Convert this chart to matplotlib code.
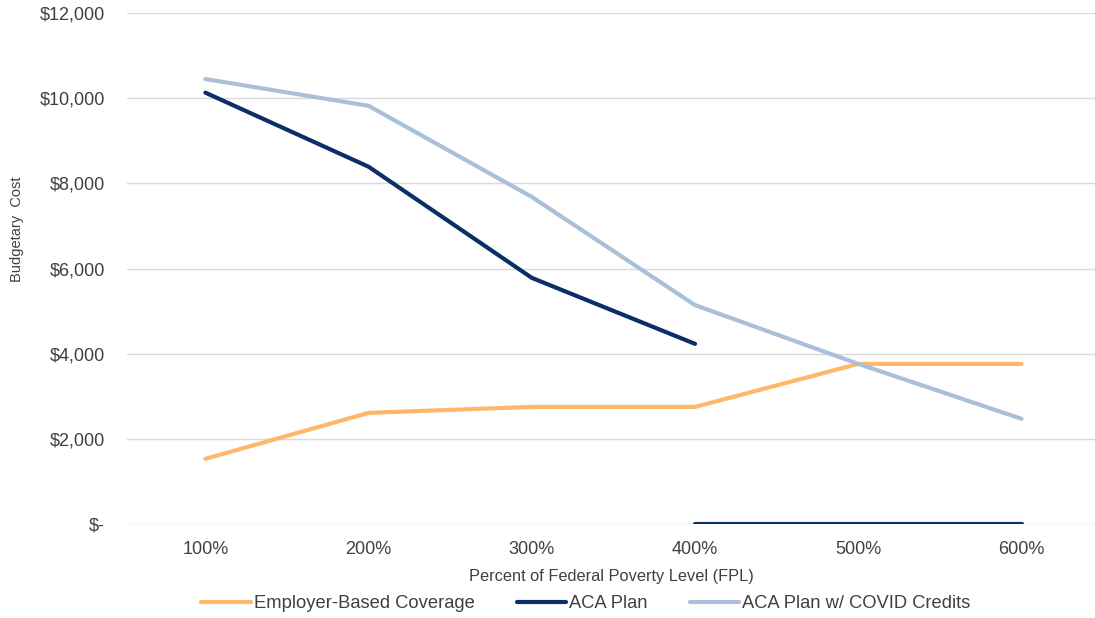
import matplotlib
matplotlib.use("Agg")
import matplotlib.pyplot as plt
import numpy as np

categories = ["100%", "200%", "300%", "400%", "500%", "600%"]
employer = [1530, 2610, 2750, 2750, 3760, 3760]
aca_plan = [10130, 8390, 5780, 4230, np.nan, np.nan]
aca_plan_cliff = [np.nan, np.nan, np.nan, 0, 0, 0]
aca_covid = [10450, 9820, 7680, 5140, 3760, 2470]
yticks = [0, 2000, 4000, 6000, 8000, 10000, 12000]
ytick_labels = ["$-", "$2,000", "$4,000", "$6,000", "$8,000", "$10,000", "$12,000"]

c_emp = "#FFB769"
c_aca = "#0B2E66"
c_cov = "#A9C0D8"
txt = "#404040"

plt.rcParams["font.family"] = ["Liberation Sans", "DejaVu Sans"]

fig = plt.figure(figsize=(10.95, 6.18), dpi=100)
ax = fig.add_axes([127/1095, (618-524)/618, (1095-127)/1095, (524-13)/618])

x = np.arange(len(categories))
ax.plot(x, employer, color=c_emp, lw=3, solid_capstyle="round", label="Employer-Based Coverage", zorder=3)
ax.plot(x, aca_plan, color=c_aca, lw=3, solid_capstyle="round", label="ACA Plan", zorder=4)
ax.plot(x, aca_plan_cliff, color=c_aca, lw=3, solid_capstyle="round", zorder=4)
ax.plot(x, aca_covid, color=c_cov, lw=3, solid_capstyle="round", label="ACA Plan w/ COVID Credits", zorder=3)

ax.set_xlim(-0.48, 5.45)
ax.set_ylim(0, 12000)
ax.set_yticks(yticks)
ax.set_yticklabels(ytick_labels)
ax.set_xticks(x)
ax.set_xticklabels(categories)
ax.tick_params(axis="both", length=0, labelsize=13, colors=txt)
ax.tick_params(axis="y", pad=16)
ax.tick_params(axis="x", pad=12)
for s in ax.spines.values():
    s.set_visible(False)
ax.grid(axis="y", color="#D9D9D9", lw=1)
ax.set_axisbelow(True)
ax.set_xlabel("Percent of Federal Poverty Level (FPL)", fontsize=11.8, color=txt, labelpad=8)
fig.text(17/1095, (618-229)/618, "Budgetary  Cost", rotation=90, ha="center", va="center",
         fontsize=10.5, color=txt)

leg = fig.legend(loc="center", bbox_to_anchor=(0.535, (618-604)/618), ncol=3, frameon=False,
                 handlelength=2.7, handletextpad=0.15, columnspacing=2.3,
                 prop={"family": ["Liberation Sans", "DejaVu Sans"], "size": 13.2})
for t in leg.get_texts():
    t.set_color(txt)

fig.savefig("out.png", dpi=100)
